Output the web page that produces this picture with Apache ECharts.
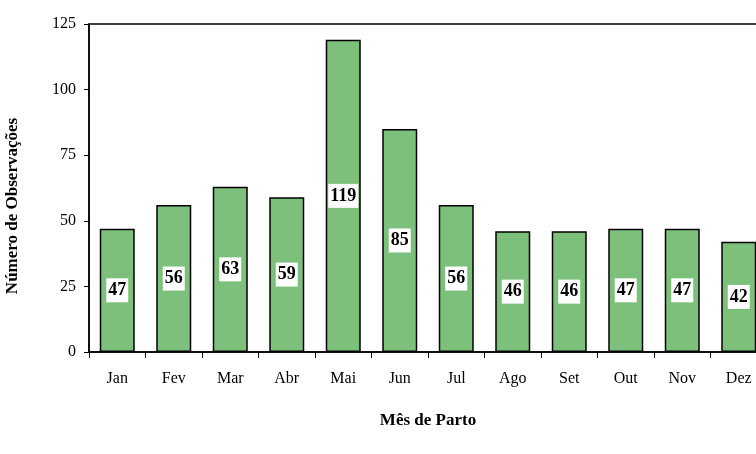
<!DOCTYPE html>
<html><head><meta charset="utf-8">
<script src="https://cdn.jsdelivr.net/npm/echarts@6/dist/echarts.min.js"></script>
<style>html,body{margin:0;padding:0;background:#fff}#c{width:756px;height:454px}</style>
</head><body><div id="c"></div>
<script>
const categories = ['Jan','Fev','Mar','Abr','Mai','Jun','Jul','Ago','Set','Out','Nov','Dez'];
const values = [47,56,63,59,119,85,56,46,46,47,47,42];
const yTicks = [0,25,50,75,100,125];
const serif = '"Liberation Serif","Times New Roman",serif';
const chart = echarts.init(document.getElementById('c'));
chart.setOption({
  animation:false,
  grid:{left:89, top:24, right:-11, bottom:102, outerBoundsMode:'none', containLabel:false,
    show:true, borderColor:'#000', borderWidth:1.5, backgroundColor:'transparent'},
  xAxis:{type:'category', data:categories,
    name:'Mês de Parto', nameLocation:'middle', nameGap:60,
    nameTextStyle:{fontFamily:serif, fontWeight:'bold', fontSize:17, color:'#000'},
    axisLine:{lineStyle:{color:'#000', width:1.5}},
    axisTick:{show:true, length:6, lineStyle:{color:'#000'}},
    axisLabel:{fontFamily:serif, fontSize:16, color:'#000', margin:19}},
  yAxis:{type:'value', min:0, max:125, interval:25,
    name:'Número de Observações', nameLocation:'middle', nameGap:68,
    nameTextStyle:{fontFamily:serif, fontWeight:'bold', fontSize:17, color:'#000', padding:[0,36,0,0]},
    axisLine:{show:true, lineStyle:{color:'#000', width:1.5}},
    axisTick:{show:true, length:5, lineStyle:{color:'#000'}},
    splitLine:{show:false},
    axisLabel:{fontFamily:serif, fontSize:16, color:'#000', margin:13,
      formatter:v=> yTicks.includes(v) ? String(v) : ''}},
  series:[{type:'bar', data:values, barWidth:35,
    itemStyle:{color:'#7cc07c', borderColor:'#000', borderWidth:1.5},
    label:{show:true, position:'inside', fontFamily:serif, fontWeight:'bold', fontSize:18, color:'#000',
      backgroundColor:'#fff', padding:[4,2,2,2]}}]
});
</script></body></html>
